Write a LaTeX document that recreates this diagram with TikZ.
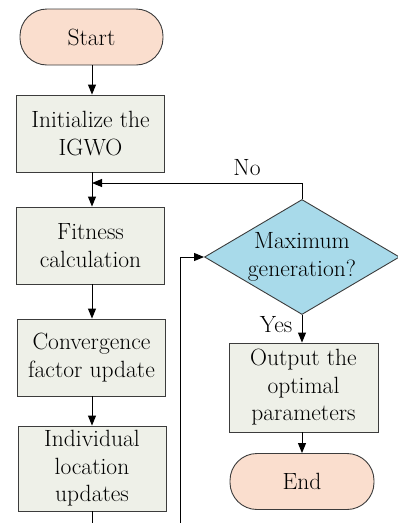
\documentclass[tikz,border=0pt]{standalone}
\usetikzlibrary{arrows.meta,shapes.geometric}
\definecolor{termfill}{RGB}{250,222,206}
\definecolor{boxfill}{RGB}{238,240,232}
\definecolor{decfill}{RGB}{168,218,234}
\definecolor{edge}{RGB}{60,60,60}
\begin{document}
\begin{tikzpicture}[x=1pt,y=-1pt,
  every node/.style={font=\fontsize{23.5}{27.5}\selectfont, align=center, inner sep=0pt},
  term/.style={draw=edge, line width=0.9pt, fill=termfill, rounded corners=27pt, minimum width=#1, minimum height=56pt},
  proc/.style={draw=edge, line width=0.9pt, fill=boxfill, minimum width=148pt},
  dec/.style={draw=edge, line width=0.9pt, fill=decfill, diamond, minimum width=195pt, minimum height=115pt},
  arr/.style={line width=1pt, -{Triangle[length=10pt,width=8pt]}},
  ln/.style={line width=1pt}]
\useasboundingbox (0,0) rectangle (398,523);
\node[term=143pt] (start) at (91.5,37) {Start};
\node[proc, minimum height=77pt] (init) at (90.5,133.5) {Initialize the\\IGWO};
\node[proc, minimum height=77pt] (fit) at (90.5,245.5) {Fitness\\calculation};
\node[proc, minimum height=77pt] (conv) at (91.5,357.5) {Convergence\\factor update};
\node[proc, minimum height=85pt] (ind) at (92,468.5) {Individual\\location\\updates};
\node[dec] (dec) at (302,257) {};
\node at (dec) {Maximum\\generation?};
\node[proc, minimum width=149pt, minimum height=89pt] (out) at (303.5,387.5) {Output the\\optimal\\parameters};
\node[term=144pt] (end) at (302,481.5) {End};
\coordinate (j1) at (92,183);
\coordinate (nocorner) at (302,183);
\coordinate (b1) at (92,523);
\coordinate (b2) at (180,523);
\coordinate (lcorner) at (180,257);
\draw[arr] (start.south -| j1) -- (init.north -| j1);
\draw[ln] (init.south -| j1) -- (j1);
\draw[arr] (j1) -- (fit.north -| j1);
\draw[arr] (fit.south -| j1) -- (conv.north -| j1);
\draw[arr] (conv.south -| j1) -- (ind.north -| j1);
\draw[ln] (ind.south -| j1) -- (b1);
\draw[arr] (dec.north) -- (nocorner) -- (j1);
\node (nolab) at (247,168) {No};
\draw[arr] (b2) -- (lcorner) -- (dec.west);
\draw[arr] (dec.south) -- (out.north -| dec.south);
\node (yeslab) at (276,325) {Yes};
\draw[arr] (out.south -| end.north) -- (end.north);
\end{tikzpicture}
\end{document}
